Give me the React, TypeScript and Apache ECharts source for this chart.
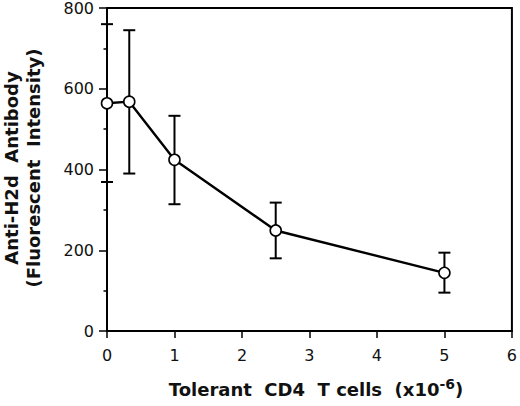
import { useEffect, useRef } from 'react';
import * as echarts from 'echarts';

// cell dose (x10^-6) and measured fluorescence
const doses = [0, 0.33, 1, 2.5, 5];
const means = [564, 568, 424, 249, 144];
const upper = [760, 745, 533, 318, 194];
const lower = [369, 390, 314, 180, 95];

const xTicks = [0, 1, 2, 3, 4, 5, 6];
const yTicks = [0, 200, 400, 600, 800];

const tickFont = 'DejaVu Sans, Arial, sans-serif';
const titleFont = 'DejaVu Sans, Arial, sans-serif';

const App = () => {
  const chartRef = useRef<HTMLDivElement>(null);

  useEffect(() => {
    if (!chartRef.current) return;
    const chart = echarts.init(chartRef.current, undefined, { renderer: 'svg' });

    const option = {
      animation: false,
      grid: {
        left: 107,
        right: 5,
        top: 8,
        bottom: 75,
        show: true,
        borderColor: '#000',
        borderWidth: 2
      },
      xAxis: {
        type: 'value',
        min: xTicks[0],
        max: xTicks[xTicks.length - 1],
        interval: 1,
        splitLine: { show: false },
        axisLine: { lineStyle: { color: '#000', width: 2 } },
        axisTick: { length: 7, lineStyle: { color: '#000', width: 1.5 } },
        axisLabel: { color: '#111', fontSize: 16, fontFamily: tickFont, margin: 16 }
      },
      yAxis: {
        type: 'value',
        min: yTicks[0],
        max: yTicks[yTicks.length - 1],
        interval: 200,
        splitLine: { show: false },
        axisLine: { lineStyle: { color: '#000', width: 2 } },
        axisTick: { length: 8, lineStyle: { color: '#000', width: 1.5 } },
        minorTick: { show: true, splitNumber: 2, length: 3.5, lineStyle: { color: '#000', width: 1.5 } },
        axisLabel: { color: '#111', fontSize: 16, fontFamily: tickFont, margin: 13 }
      },
      graphic: [
        {
          type: 'text',
          x: 22,
          y: 168,
          rotation: Math.PI / 2,
          style: {
            text: 'Anti-H2d  Antibody\n(Fluorescent  Intensity)',
            fontSize: 18,
            fontWeight: 'bold',
            fontFamily: titleFont,
            lineHeight: 22,
            fill: '#111',
            align: 'center',
            verticalAlign: 'middle'
          }
        },
        {
          type: 'text',
          x: 316,
          y: 389,
          style: {
            text: 'Tolerant  CD4  T cells  (x10{sup|-6})',
            rich: {
              sup: {
                fontSize: 14,
                fontWeight: 'bold',
                fontFamily: titleFont,
                fill: '#111',
                padding: [0, 0, 10, 0]
              }
            },
            fontSize: 18,
            fontWeight: 'bold',
            fontFamily: titleFont,
            fill: '#111',
            align: 'center',
            verticalAlign: 'middle'
          }
        }
      ],
      series: [
        {
          type: 'custom',
          z: 1,
          data: doses.map((d, i) => [d, lower[i], upper[i]]),
          renderItem: (_params: any, api: any) => {
            const top = api.coord([api.value(0), api.value(2)]);
            const bot = api.coord([api.value(0), api.value(1)]);
            const w = 6;
            const style = { stroke: '#000', lineWidth: 2, fill: 'none' };
            return {
              type: 'group',
              children: [
                { type: 'line', shape: { x1: top[0], y1: top[1], x2: bot[0], y2: bot[1] }, style },
                { type: 'line', shape: { x1: top[0] - w, y1: top[1], x2: top[0] + w, y2: top[1] }, style },
                { type: 'line', shape: { x1: bot[0] - w, y1: bot[1], x2: bot[0] + w, y2: bot[1] }, style }
              ]
            };
          }
        },
        {
          type: 'line',
          z: 3,
          data: doses.map((d, i) => [d, means[i]]),
          symbol: 'circle',
          symbolSize: 11,
          lineStyle: { color: '#000', width: 2.4 },
          itemStyle: { color: '#fff', borderColor: '#000', borderWidth: 1.6 }
        }
      ]
    };

    chart.setOption(option as any);
    return () => {
      chart.dispose();
    };
  }, []);

  return (
    <div
      ref={chartRef}
      style={{ position: 'fixed', left: 0, top: 0, width: '520px', height: '406px', background: '#fff' }}
    />
  );
};

export default App;
